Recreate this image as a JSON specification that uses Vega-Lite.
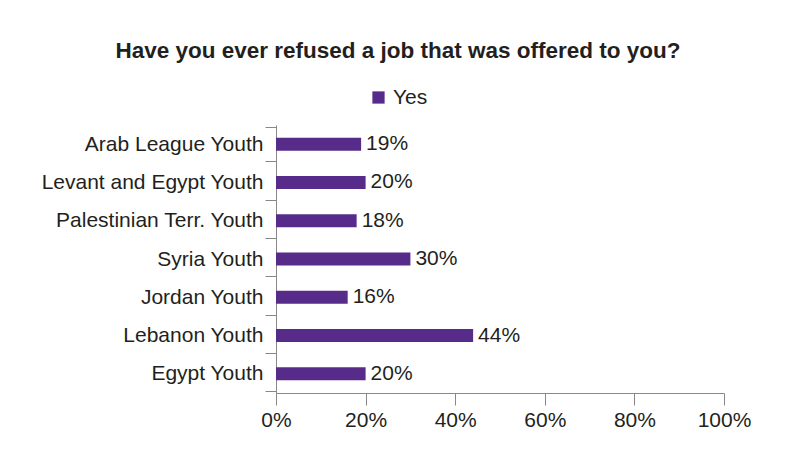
{
  "$schema": "https://vega.github.io/schema/vega-lite/v6.json",
  "autosize": {"type": "none"},
  "padding": {"left": 276, "top": 125, "right": 67, "bottom": 74},
  "width": 448,
  "height": 268,
  "background": "white",
  "title": {
    "text": "Have you ever refused a job that was offered to you?",
    "anchor": "middle",
    "frame": "group",
    "dx": -102,
    "offset": 25,
    "font": "Liberation Sans",
    "fontSize": 22.5,
    "fontWeight": "bold",
    "color": "#231f20"
  },
  "data": {
    "values": [
      {"group": "Arab League Youth", "series": "Yes", "value": 0.19},
      {"group": "Levant and Egypt Youth", "series": "Yes", "value": 0.20},
      {"group": "Palestinian Terr. Youth", "series": "Yes", "value": 0.18},
      {"group": "Syria Youth", "series": "Yes", "value": 0.30},
      {"group": "Jordan Youth", "series": "Yes", "value": 0.16},
      {"group": "Lebanon Youth", "series": "Yes", "value": 0.44},
      {"group": "Egypt Youth", "series": "Yes", "value": 0.20}
    ]
  },
  "encoding": {
    "y": {
      "field": "group",
      "type": "nominal",
      "sort": null,
      "title": null,
      "axis": {
        "tickBand": "extent",
        "tickSize": 11,
        "labelPadding": 2,
        "labelFont": "Liberation Sans",
        "labelFontSize": 21,
        "labelColor": "#231f20",
        "domainColor": "#888888",
        "tickColor": "#888888",
        "labelLimit": 300
      }
    },
    "x": {
      "field": "value",
      "type": "quantitative",
      "scale": {"domain": [0, 1]},
      "title": null,
      "axis": {
        "values": [0, 0.2, 0.4, 0.6, 0.8, 1],
        "format": ".0%",
        "grid": false,
        "labelFlush": false,
        "tickSize": 12,
        "labelPadding": 4,
        "labelFont": "Liberation Sans",
        "labelFontSize": 21,
        "labelColor": "#231f20",
        "domainColor": "#888888",
        "tickColor": "#888888"
      }
    }
  },
  "layer": [
    {
      "mark": {"type": "bar", "size": 13},
      "encoding": {
        "color": {
          "field": "series",
          "type": "nominal",
          "scale": {"range": ["#562b89"]},
          "legend": {
            "title": null,
            "orient": "none",
            "legendX": 92,
            "legendY": -38,
            "symbolType": "square",
            "symbolSize": 150,
            "symbolStrokeWidth": 0,
            "labelFont": "Liberation Sans",
            "labelFontSize": 21,
            "labelColor": "#231f20"
          }
        }
      }
    },
    {
      "mark": {
        "type": "text",
        "align": "left",
        "baseline": "middle",
        "dx": 5,
        "font": "Liberation Sans",
        "fontSize": 21,
        "color": "#231f20"
      },
      "encoding": {
        "text": {"field": "value", "type": "quantitative", "format": ".0%"}
      }
    }
  ],
  "config": {"view": {"stroke": null}}
}
